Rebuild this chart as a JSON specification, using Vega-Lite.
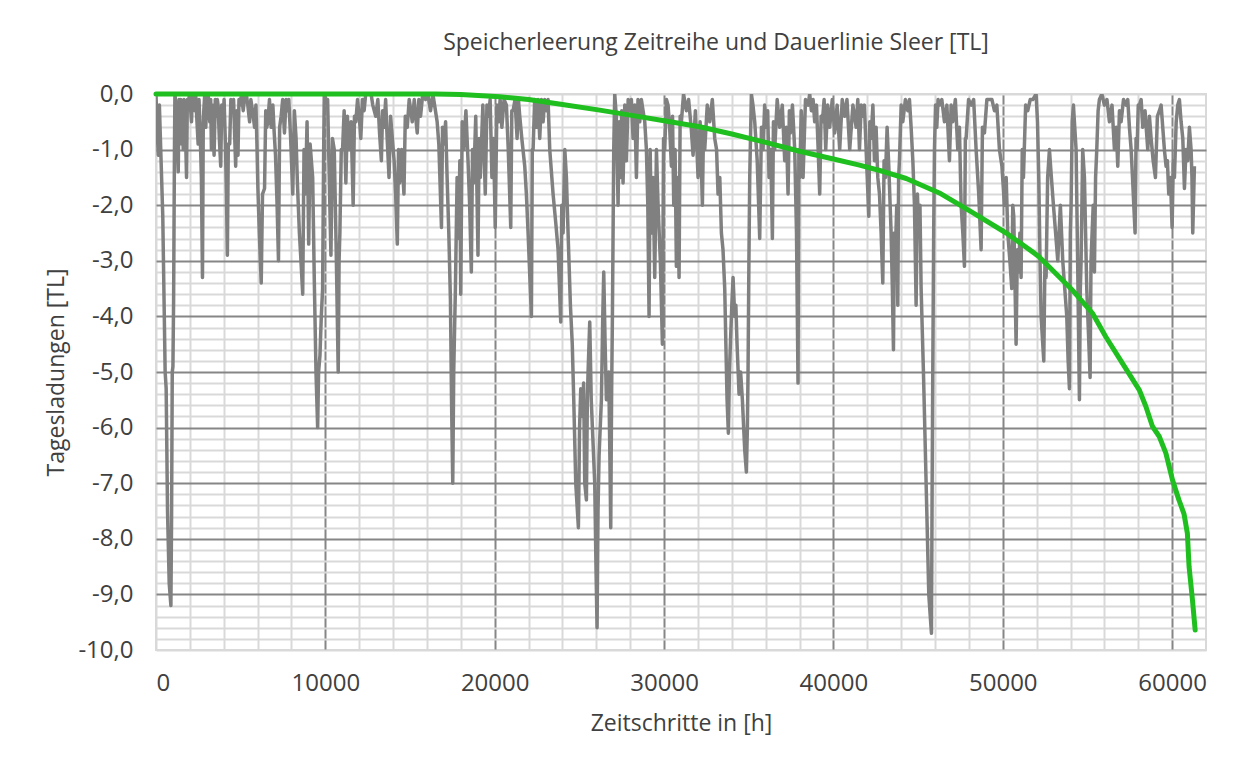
{
  "$schema": "https://vega.github.io/schema/vega-lite/v6.json",
  "width": 1050,
  "height": 556,
  "autosize": {"type": "none"},
  "padding": {"left": 156, "top": 94, "right": 52, "bottom": 111},
  "background": "white",
  "config": {
    "locale": {"number": {"decimal": ",", "thousands": ".", "grouping": [3], "currency": ["", " €"], "minus": "-"}},
    "view": {"stroke": "#d9d9d9", "strokeWidth": 2},
    "font": "Open Sans"
  },
  "title": {"text": "Speicherleerung Zeitreihe und Dauerlinie Sleer [TL]", "fontSize": 23, "fontWeight": "normal", "color": "#404040", "anchor": "middle", "dx": 35, "offset": 27, "font": "Open Sans"},
  "datasets": {
    "gray": [
      {"x":0,"y":0},{"x":60,"y":-0.6},{"x":137,"y":-1.1},{"x":200,"y":-0.2},{"x":300,"y":-1.2},{"x":400,"y":-2.2},{"x":480,"y":-3.8},{"x":540,"y":-5.0},{"x":600,"y":-5.3},{"x":680,"y":-7.5},{"x":780,"y":-8.8},{"x":880,"y":-9.2},{"x":920,"y":-7.6},{"x":960,"y":-5.0},{"x":1000,"y":-4.9},{"x":1040,"y":-3.7},{"x":1090,"y":-1.0},{"x":1117,"y":0},
      {"x":1200,"y":-0.3},{"x":1313,"y":-1.4},{"x":1360,"y":-0.1},{"x":1411,"y":-0.6},{"x":1460,"y":-0.1},{"x":1509,"y":-0.9},{"x":1560,"y":-0.2},{"x":1607,"y":-1.0},{"x":1650,"y":-0.1},{"x":1720,"y":-0.4},{"x":1803,"y":-1.5},{"x":1850,"y":-0.1},{"x":1901,"y":-0.2},{"x":1980,"y":0},{"x":2050,"y":-0.3},{"x":2097,"y":-0.5},{"x":2150,"y":0},{"x":2230,"y":-0.2},{"x":2293,"y":-0.3},{"x":2340,"y":0},{"x":2420,"y":-0.5},{"x":2489,"y":-0.9},{"x":2540,"y":-0.1},{"x":2600,"y":-0.6},{"x":2680,"y":-1.5},{"x":2744,"y":-3.3},{"x":2790,"y":-0.6},{"x":2822,"y":-0.3},
      {"x":2880,"y":0},{"x":2940,"y":-0.6},{"x":3000,"y":-0.1},{"x":3077,"y":0},{"x":3130,"y":-0.3},{"x":3175,"y":-0.5},{"x":3230,"y":-0.1},{"x":3273,"y":-1.0},{"x":3330,"y":-0.2},{"x":3380,"y":-0.6},{"x":3430,"y":-1.1},{"x":3500,"y":-0.1},{"x":3560,"y":-0.4},{"x":3620,"y":-0.1},{"x":3665,"y":-0.2},{"x":3740,"y":-0.8},{"x":3822,"y":-1.3},{"x":3880,"y":-0.2},{"x":3959,"y":-0.5},{"x":4020,"y":-0.1},{"x":4100,"y":-0.9},{"x":4160,"y":-1.8},{"x":4214,"y":-2.9},{"x":4270,"y":-0.9},{"x":4351,"y":-0.9},{"x":4420,"y":-0.1},{"x":4508,"y":-0.3},{"x":4580,"y":-0.1},{"x":4640,"y":-0.7},{"x":4704,"y":-1.3},{"x":4770,"y":-0.3},{"x":4841,"y":-1.1},{"x":4900,"y":-0.1},{"x":4978,"y":-0.2},{"x":5050,"y":0},{"x":5150,"y":-0.3},{"x":5250,"y":0},{"x":5331,"y":0},{"x":5420,"y":-0.2},{"x":5527,"y":-0.5},{"x":5600,"y":-0.1},{"x":5700,"y":-0.3},{"x":5821,"y":-0.6},{"x":5900,"y":-0.2},{"x":5960,"y":-0.9},{"x":6017,"y":-1.7},{"x":6100,"y":-2.5},{"x":6213,"y":-3.4},{"x":6290,"y":-1.8},{"x":6409,"y":-1.7},{"x":6480,"y":-0.3},{"x":6540,"y":-0.6},{"x":6605,"y":-0.5},{"x":6700,"y":-0.1},{"x":6801,"y":-0.6},{"x":6900,"y":-0.2},{"x":6980,"y":-0.7},{"x":7056,"y":-1.1},{"x":7150,"y":-2.0},{"x":7232,"y":-3.0},{"x":7300,"y":-0.6},{"x":7389,"y":-0.4},{"x":7480,"y":-0.1},{"x":7585,"y":-0.7},{"x":7680,"y":-0.1},{"x":7760,"y":-0.3},{"x":7840,"y":-0.1},
      {"x":7950,"y":-0.8},{"x":8075,"y":-1.8},{"x":8170,"y":-0.3},{"x":8271,"y":-0.8},{"x":8350,"y":-1.6},{"x":8467,"y":-2.5},{"x":8560,"y":-3.0},{"x":8663,"y":-3.6},{"x":8740,"y":-1.0},{"x":8820,"y":-1.8},{"x":8920,"y":-0.5},{"x":9016,"y":-2.7},{"x":9100,"y":-0.9},{"x":9251,"y":-1.5},{"x":9350,"y":-3.4},{"x":9447,"y":-5.0},{"x":9545,"y":-6.0},{"x":9600,"y":-5.0},{"x":9682,"y":-4.7},{"x":9760,"y":-4.0},{"x":9839,"y":-3.5},{"x":9900,"y":-1.0},{"x":9937,"y":0},
      {"x":10030,"y":-0.1},{"x":10133,"y":-0.1},{"x":10230,"y":-1.5},{"x":10329,"y":-2.9},{"x":10420,"y":-0.8},{"x":10525,"y":-1.0},{"x":10640,"y":-2.8},{"x":10760,"y":-5.0},{"x":10810,"y":-3.0},{"x":10858,"y":-2.5},{"x":10940,"y":-1.0},{"x":11015,"y":-1.0},{"x":11110,"y":-0.3},{"x":11211,"y":-1.6},{"x":11300,"y":-0.4},{"x":11407,"y":-1.0},{"x":11520,"y":-0.5},{"x":11642,"y":-2.0},{"x":11720,"y":-0.4},{"x":11799,"y":-0.5},{"x":11900,"y":-0.1},{"x":12000,"y":-0.4},{"x":12093,"y":-0.8},{"x":12190,"y":-0.1},{"x":12289,"y":-0.3},{"x":12380,"y":0},{"x":12485,"y":0},{"x":12700,"y":0},
      {"x":12800,"y":-0.2},{"x":12975,"y":-0.4},{"x":13100,"y":-0.1},{"x":13200,"y":-0.7},{"x":13308,"y":-1.2},{"x":13380,"y":-0.3},{"x":13465,"y":-0.6},{"x":13560,"y":-0.1},{"x":13650,"y":-0.8},{"x":13759,"y":-1.5},{"x":13850,"y":-0.4},{"x":13955,"y":-0.8},{"x":14060,"y":-1.2},{"x":14150,"y":-1.8},{"x":14249,"y":-2.7},{"x":14320,"y":-1.0},{"x":14386,"y":-1.6},{"x":14500,"y":-1.0},{"x":14641,"y":-1.8},{"x":14720,"y":-0.4},{"x":14837,"y":-0.6},{"x":14950,"y":-0.1},{"x":15050,"y":-0.3},{"x":15131,"y":-0.5},{"x":15250,"y":-0.1},{"x":15330,"y":-0.4},{"x":15425,"y":-0.7},{"x":15520,"y":-0.1},{"x":15621,"y":-0.4},{"x":15750,"y":0},{"x":15915,"y":-0.1},{"x":16050,"y":0},{"x":16209,"y":-0.3},{"x":16350,"y":0},{"x":16450,"y":-0.2},{"x":16601,"y":-0.5},{"x":16700,"y":-0.9},{"x":16856,"y":-2.4},{"x":16920,"y":-0.6},{"x":16993,"y":-0.9},{"x":17100,"y":-0.5},{"x":17189,"y":-1.5},{"x":17290,"y":-2.5},{"x":17385,"y":-3.7},{"x":17450,"y":-5.5},{"x":17522,"y":-7.0},{"x":17580,"y":-5.0},{"x":17679,"y":-3.5},{"x":17780,"y":-1.5},{"x":17875,"y":-2.6},{"x":17940,"y":-1.2},{"x":17993,"y":-3.6},{"x":18080,"y":-0.5},{"x":18169,"y":-1.0},{"x":18300,"y":-0.3},{"x":18424,"y":-1.2},{"x":18520,"y":-2.0},{"x":18620,"y":-3.2},{"x":18690,"y":-1.0},{"x":18757,"y":-1.6},{"x":18880,"y":-0.4},{"x":19012,"y":-2.9},{"x":19080,"y":-0.8},{"x":19149,"y":-1.5},{"x":19300,"y":-0.2},{"x":19443,"y":-1.8},{"x":19540,"y":-0.2},{"x":19639,"y":-0.4},{"x":19730,"y":-0.1},{"x":19835,"y":-1.5},{"x":19930,"y":-0.8},{"x":20031,"y":-2.4},{"x":20130,"y":-0.2},{"x":20227,"y":-0.5},{"x":20320,"y":-0.1},{"x":20423,"y":-0.6},{"x":20550,"y":-0.1},
      {"x":20691,"y":-0.2},{"x":20800,"y":-1.0},{"x":20947,"y":-2.4},{"x":21010,"y":-0.3},{"x":21085,"y":-0.3},{"x":21200,"y":-0.1},{"x":21321,"y":-0.8},{"x":21400,"y":-0.1},{"x":21479,"y":-0.4},{"x":21600,"y":-0.8},{"x":21774,"y":-1.3},{"x":21870,"y":-1.8},{"x":21971,"y":-2.5},{"x":22167,"y":-4.0},{"x":22220,"y":-1.0},{"x":22266,"y":-1.0},{"x":22360,"y":-0.1},{"x":22463,"y":-0.6},{"x":22560,"y":-0.1},{"x":22659,"y":-0.8},{"x":22760,"y":-0.1},{"x":22856,"y":-0.5},{"x":22950,"y":-0.1},{"x":23053,"y":-0.3},{"x":23150,"y":-0.1},{"x":23250,"y":-1.0},{"x":23447,"y":-1.8},{"x":23600,"y":-2.3},{"x":23742,"y":-2.8},{"x":23899,"y":-4.1},{"x":23960,"y":-2.0},{"x":24037,"y":-2.5},{"x":24140,"y":-1.0},{"x":24234,"y":-1.5},{"x":24332,"y":-2.5},{"x":24470,"y":-3.8},{"x":24580,"y":-4.5},{"x":24667,"y":-5.5},{"x":24785,"y":-7.0},{"x":24942,"y":-7.8},{"x":25010,"y":-6.0},{"x":25080,"y":-5.3},{"x":25178,"y":-5.8},{"x":25250,"y":-5.2},{"x":25316,"y":-7.0},{"x":25414,"y":-7.3},{"x":25470,"y":-5.5},{"x":25513,"y":-5.0},{"x":25611,"y":-4.1},{"x":25700,"y":-5.5},{"x":25769,"y":-6.0},{"x":25906,"y":-7.0},{"x":25980,"y":-8.5},{"x":26044,"y":-9.6},{"x":26100,"y":-7.5},{"x":26162,"y":-6.5},{"x":26230,"y":-6.0},{"x":26300,"y":-5.5},{"x":26380,"y":-4.0},{"x":26438,"y":-3.2},{"x":26520,"y":-4.5},{"x":26595,"y":-5.5},{"x":26733,"y":-5.0},{"x":26800,"y":-6.5},{"x":26851,"y":-7.8},{"x":26900,"y":-5.5},{"x":26950,"y":-4.0},{"x":27028,"y":-1.0},{"x":27087,"y":0},
      {"x":27180,"y":-0.4},{"x":27284,"y":-2.0},{"x":27350,"y":-0.5},{"x":27422,"y":-1.5},{"x":27500,"y":-0.3},{"x":27579,"y":-1.6},{"x":27680,"y":-0.2},{"x":27776,"y":-1.2},{"x":27880,"y":-0.1},{"x":27973,"y":-0.3},{"x":28070,"y":-0.1},{"x":28170,"y":-0.8},{"x":28270,"y":-0.2},{"x":28367,"y":-1.5},{"x":28460,"y":-0.1},{"x":28563,"y":-0.5},{"x":28660,"y":-0.1},{"x":28760,"y":-0.3},{"x":28860,"y":-0.5},{"x":28957,"y":-1.0},{"x":29040,"y":-2.0},{"x":29114,"y":-4.0},{"x":29180,"y":-1.0},{"x":29252,"y":-2.5},{"x":29350,"y":-1.5},{"x":29449,"y":-3.3},{"x":29550,"y":-1.0},{"x":29646,"y":-2.0},{"x":29780,"y":-3.0},{"x":29902,"y":-4.5},{"x":29970,"y":-0.8},{"x":30039,"y":-1.0},{"x":30140,"y":-0.1},{"x":30236,"y":-0.2},{"x":30330,"y":-0.6},{"x":30433,"y":-1.3},{"x":30500,"y":-0.4},{"x":30571,"y":-2.0},{"x":30650,"y":-1.0},{"x":30728,"y":-3.1},{"x":30800,"y":-1.5},{"x":30886,"y":-3.3},{"x":30950,"y":-0.4},{"x":31023,"y":-0.5},{"x":31150,"y":0},{"x":31319,"y":-0.3},
      {"x":31450,"y":-0.1},{"x":31600,"y":-0.6},{"x":31712,"y":-1.1},{"x":31850,"y":-0.3},{"x":32007,"y":-1.5},{"x":32130,"y":-0.5},{"x":32263,"y":-2.0},{"x":32330,"y":-0.6},{"x":32401,"y":-1.0},{"x":32550,"y":-0.2},{"x":32696,"y":-0.5},{"x":32850,"y":-0.1},{"x":32991,"y":-0.8},{"x":33100,"y":-1.0},{"x":33188,"y":-1.8},{"x":33290,"y":-1.5},{"x":33385,"y":-2.5},{"x":33480,"y":-2.8},{"x":33582,"y":-3.5},{"x":33650,"y":-4.5},{"x":33720,"y":-5.5},{"x":33798,"y":-6.1},{"x":33860,"y":-5.0},{"x":33916,"y":-4.5},{"x":34000,"y":-3.8},{"x":34074,"y":-3.3},{"x":34172,"y":-4.0},{"x":34240,"y":-3.8},{"x":34310,"y":-4.5},{"x":34428,"y":-5.4},{"x":34520,"y":-5.0},{"x":34625,"y":-5.5},{"x":34700,"y":-6.0},{"x":34763,"y":-6.4},{"x":34861,"y":-6.8},{"x":34920,"y":-6.0},{"x":34959,"y":-5.0},{"x":35010,"y":-3.0},{"x":35058,"y":-1.5},{"x":35156,"y":0},
      {"x":35250,"y":-0.2},{"x":35353,"y":-0.5},{"x":35500,"y":-1.2},{"x":35648,"y":-2.6},{"x":35750,"y":-0.6},{"x":35845,"y":-1.0},{"x":35940,"y":-0.2},{"x":36042,"y":-0.6},{"x":36120,"y":-0.3},{"x":36199,"y":-1.5},{"x":36300,"y":-1.0},{"x":36396,"y":-2.6},{"x":36460,"y":-0.5},{"x":36534,"y":-1.0},{"x":36680,"y":-0.1},{"x":36829,"y":-0.6},{"x":36980,"y":-0.2},{"x":37124,"y":-1.2},{"x":37220,"y":-0.6},{"x":37321,"y":-1.8},{"x":37400,"y":-0.3},{"x":37459,"y":-0.7},{"x":37580,"y":-0.2},{"x":37715,"y":-1.0},{"x":37820,"y":-2.5},{"x":37911,"y":-5.2},{"x":37960,"y":-1.0},{"x":38010,"y":-1.5},{"x":38100,"y":-0.3},{"x":38207,"y":-1.5},{"x":38350,"y":-0.1},{"x":38502,"y":-0.2},{"x":38600,"y":0},{"x":38699,"y":-0.3},{"x":38800,"y":-0.1},{"x":38895,"y":-0.5},{"x":39000,"y":-0.2},{"x":39100,"y":-1.0},{"x":39191,"y":-1.8},{"x":39270,"y":-0.4},{"x":39348,"y":-0.5},{"x":39450,"y":-0.1},{"x":39545,"y":-1.0},{"x":39660,"y":-0.2},{"x":39781,"y":-0.6},{"x":39930,"y":-0.1},{"x":40076,"y":-0.7},{"x":40220,"y":-0.2},{"x":40371,"y":-1.0},{"x":40520,"y":-0.1},{"x":40667,"y":-0.4},{"x":40800,"y":-0.1},{"x":40962,"y":-1.0},{"x":41150,"y":-0.2},
      {"x":41341,"y":-0.6},{"x":41440,"y":-0.1},{"x":41538,"y":-1.0},{"x":41640,"y":-0.2},{"x":41734,"y":-0.4},{"x":41830,"y":-0.2},{"x":41931,"y":-1.0},{"x":42089,"y":-2.2},{"x":42150,"y":-0.5},{"x":42226,"y":-0.8},{"x":42330,"y":-0.2},{"x":42423,"y":-1.2},{"x":42520,"y":-0.6},{"x":42620,"y":-1.5},{"x":42720,"y":-1.8},{"x":42817,"y":-2.5},{"x":42915,"y":-3.4},{"x":42990,"y":-1.2},{"x":43073,"y":-1.5},{"x":43170,"y":-0.6},{"x":43269,"y":-1.3},{"x":43407,"y":-2.5},{"x":43480,"y":-3.5},{"x":43545,"y":-4.6},{"x":43600,"y":-2.5},{"x":43663,"y":-2.8},{"x":43740,"y":-2.0},{"x":43801,"y":-3.8},{"x":43850,"y":-1.5},{"x":43899,"y":-1.2},{"x":44000,"y":-0.2},{"x":44096,"y":-0.5},{"x":44250,"y":-0.1},{"x":44391,"y":-0.3},{"x":44490,"y":-0.1},{"x":44588,"y":-0.6},{"x":44690,"y":-1.2},{"x":44785,"y":-2.0},{"x":44883,"y":-3.8},{"x":44960,"y":-1.8},{"x":45041,"y":-2.5},{"x":45110,"y":-2.0},{"x":45178,"y":-3.5},{"x":45316,"y":-5.0},{"x":45474,"y":-7.0},{"x":45631,"y":-9.0},{"x":45720,"y":-9.4},{"x":45789,"y":-9.7},{"x":45830,"y":-7.0},{"x":45867,"y":-5.0},{"x":45920,"y":-2.5},{"x":45966,"y":-1.0},{"x":46030,"y":-0.2},{"x":46103,"y":-0.6},{"x":46180,"y":-0.1},{"x":46261,"y":-0.2},{"x":46400,"y":-0.1},{"x":46556,"y":-0.5},{"x":46700,"y":-0.2},{"x":46851,"y":-1.2},{"x":46950,"y":-0.2},{"x":47048,"y":-0.5},{"x":47200,"y":-0.1},{"x":47343,"y":-1.0},{"x":47440,"y":-0.6},{"x":47540,"y":-2.0},{"x":47640,"y":-2.5},{"x":47737,"y":-3.1},{"x":47790,"y":-0.8},{"x":47835,"y":-0.8},{"x":47980,"y":-0.1},{"x":48130,"y":-0.2},{"x":48280,"y":-0.1},{"x":48426,"y":-1.0},{"x":48580,"y":-1.8},{"x":48721,"y":-2.8},{"x":48800,"y":-0.6},{"x":48918,"y":-0.7},{"x":49060,"y":-0.1},{"x":49213,"y":-0.1},{"x":49360,"y":-0.1},{"x":49508,"y":-0.3},{"x":49650,"y":-0.2},{"x":49803,"y":-1.0},{"x":49950,"y":-1.3},{"x":50098,"y":-2.0},{"x":50200,"y":-1.5},{"x":50295,"y":-2.5},{"x":50420,"y":-3.0},{"x":50531,"y":-3.5},{"x":50590,"y":-2.0},{"x":50649,"y":-2.2},{"x":50787,"y":-4.5},{"x":50860,"y":-2.8},{"x":50945,"y":-3.2},{"x":51010,"y":-2.5},{"x":51082,"y":-3.3},{"x":51150,"y":-1.0},{"x":51220,"y":-1.5},{"x":51350,"y":-0.2},{"x":51476,"y":-0.3},{"x":51620,"y":-0.1},{"x":51771,"y":-0.1},{"x":51968,"y":0},
      {"x":52050,"y":-0.5},{"x":52125,"y":-1.5},{"x":52200,"y":-3.0},{"x":52263,"y":-4.0},{"x":52421,"y":-4.8},{"x":52490,"y":-3.0},{"x":52558,"y":-3.3},{"x":52650,"y":-1.5},{"x":52755,"y":-1.0},{"x":52870,"y":-1.5},{"x":52991,"y":-2.0},{"x":53120,"y":-2.5},{"x":53247,"y":-3.0},{"x":53400,"y":-2.0},{"x":53542,"y":-3.0},{"x":53660,"y":-3.5},{"x":53779,"y":-4.0},{"x":53860,"y":-4.8},{"x":53936,"y":-5.3},{"x":53990,"y":-2.5},{"x":54034,"y":-2.0},{"x":54100,"y":-0.5},{"x":54172,"y":-0.2},{"x":54250,"y":-0.6},{"x":54330,"y":-1.0},{"x":54420,"y":-3.0},{"x":54526,"y":-5.5},{"x":54580,"y":-3.5},{"x":54625,"y":-3.0},{"x":54720,"y":-1.0},{"x":54822,"y":-1.5},{"x":54890,"y":-2.5},{"x":54959,"y":-3.5},{"x":55060,"y":-4.3},{"x":55156,"y":-5.1},{"x":55210,"y":-3.0},{"x":55274,"y":-2.5},{"x":55340,"y":-2.0},{"x":55412,"y":-3.2},{"x":55480,"y":-1.5},{"x":55550,"y":-1.0},{"x":55630,"y":-0.3},{"x":55707,"y":-0.1},{"x":55850,"y":0},{"x":56002,"y":-0.2},{"x":56150,"y":-0.1},{"x":56298,"y":-0.5},{"x":56450,"y":-0.2},{"x":56593,"y":-1.0},{"x":56700,"y":-0.6},{"x":56790,"y":-1.3},{"x":56890,"y":-0.3},{"x":56986,"y":-0.5},{"x":57130,"y":-0.1},{"x":57282,"y":-0.2},{"x":57380,"y":-0.1},{"x":57478,"y":-0.6},{"x":57580,"y":-1.0},{"x":57675,"y":-1.6},{"x":57813,"y":-2.5},{"x":57870,"y":-0.8},{"x":57931,"y":-1.0},{"x":58000,"y":-0.2},{"x":58069,"y":-0.2},{"x":58170,"y":-0.1},{"x":58266,"y":-0.6},{"x":58400,"y":-0.3},{"x":58561,"y":-1.0},{"x":58660,"y":-0.4},{"x":58758,"y":-0.8},{"x":58880,"y":-1.2},{"x":59014,"y":-1.5},{"x":59130,"y":-0.4},{"x":59250,"y":-0.3},{"x":59350,"y":-0.2},{"x":59446,"y":-0.6},{"x":59543,"y":-1.0},{"x":59643,"y":-1.3},{"x":59720,"y":-1.2},{"x":59801,"y":-1.8},{"x":59900,"y":-1.5},{"x":59998,"y":-2.4},{"x":60070,"y":-1.2},{"x":60135,"y":-1.5},{"x":60240,"y":-0.5},{"x":60332,"y":-0.2},{"x":60430,"y":-0.1},{"x":60529,"y":-0.5},{"x":60630,"y":-0.8},{"x":60726,"y":-1.7},{"x":60820,"y":-1.0},{"x":60923,"y":-1.2},{"x":61020,"y":-0.6},{"x":61120,"y":-1.0},{"x":61170,"y":-1.5},{"x":61218,"y":-2.5},{"x":61316,"y":-1.3}
    ],
    "green": [
      {"x":0,"y":0},{"x":16500,"y":0},{"x":18000,"y":-0.01},{"x":20300,"y":-0.05},{"x":22000,"y":-0.1},{"x":24000,"y":-0.19},{"x":26200,"y":-0.29},{"x":28000,"y":-0.38},{"x":30000,"y":-0.48},{"x":32100,"y":-0.59},{"x":34000,"y":-0.72},{"x":36000,"y":-0.87},{"x":38000,"y":-1.03},{"x":40000,"y":-1.17},{"x":41540,"y":-1.28},{"x":42900,"y":-1.39},{"x":44300,"y":-1.52},{"x":46256,"y":-1.78},{"x":48200,"y":-2.13},{"x":50200,"y":-2.5},{"x":51760,"y":-2.84},{"x":52156,"y":-2.93},{"x":54122,"y":-3.53},{"x":55290,"y":-3.94},{"x":56090,"y":-4.37},{"x":57080,"y":-4.85},{"x":58056,"y":-5.32},{"x":58450,"y":-5.62},{"x":58840,"y":-5.98},{"x":59240,"y":-6.16},{"x":59630,"y":-6.46},{"x":60020,"y":-6.94},{"x":60400,"y":-7.3},{"x":60700,"y":-7.55},{"x":60900,"y":-7.9},{"x":61000,"y":-8.5},{"x":61200,"y":-9.1},{"x":61360,"y":-9.64}
    ]
  },
  "layer": [
    {
      "data": {"name": "gray"},
      "mark": {"type": "line", "color": "#808080", "strokeWidth": 3.5, "strokeJoin": "round", "clip": true},
      "encoding": {
        "x": {"field": "x", "type": "quantitative", "scale": {"domain": [0, 62000], "nice": false, "zero": false},
          "axis": {"orient": "top", "values": [2000,4000,6000,8000,12000,14000,16000,18000,22000,24000,26000,28000,32000,34000,36000,38000,42000,44000,46000,48000,52000,54000,56000,58000], "grid": true, "gridColor": "#d9d9d9", "gridWidth": 2, "labels": false, "ticks": false, "domain": false, "title": null}},
        "y": {"field": "y", "type": "quantitative", "scale": {"domain": [-10, 0], "nice": false, "zero": false},
          "axis": {"orient": "right", "values": [-0.2,-0.4,-0.6,-0.8,-1.2,-1.4,-1.6,-1.8,-2.2,-2.4,-2.6,-2.8,-3.2,-3.4,-3.6,-3.8,-4.2,-4.4,-4.6,-4.8,-5.2,-5.4,-5.6,-5.8,-6.2,-6.4,-6.6,-6.8,-7.2,-7.4,-7.6,-7.8,-8.2,-8.4,-8.6,-8.8,-9.2,-9.4,-9.6,-9.8], "grid": true, "gridColor": "#d9d9d9", "gridWidth": 2, "labels": false, "ticks": false, "domain": false, "title": null}}
      }
    },
    {
      "data": {"name": "green"},
      "mark": {"type": "line", "color": "#1fbf1f", "strokeWidth": 5, "strokeCap": "round", "strokeJoin": "round"},
      "encoding": {
        "x": {"field": "x", "type": "quantitative",
          "axis": {"orient": "bottom", "values": [0,10000,20000,30000,40000,50000,60000], "format": "d", "grid": true, "gridColor": {"condition": {"test": "datum.value == 0", "value": "#d9d9d9"}, "value": "#868686"}, "gridWidth": 2, "domain": false, "ticks": false, "labelFontSize": 24, "labelColor": "#404040", "labelPadding": 21, "labelFont": "Open Sans", "title": "Zeitschritte in [h]", "titleFont": "Open Sans", "titleFontSize": 23, "titleFontWeight": "normal", "titleColor": "#404040", "titleX": 525, "titleY": 73, "titleBaseline": "middle", "titleAlign": "center"}},
        "y": {"field": "y", "type": "quantitative",
          "axis": {"orient": "left", "values": [0,-1,-2,-3,-4,-5,-6,-7,-8,-9,-10], "format": ".1f", "grid": true, "gridColor": {"condition": {"test": "datum.value == 0 || datum.value == -10", "value": "#d9d9d9"}, "value": "#868686"}, "gridWidth": 2, "domain": false, "ticks": false, "labelFontSize": 24, "labelColor": "#404040", "labelPadding": 23, "labelFont": "Open Sans", "title": "Tagesladungen [TL]", "titleFont": "Open Sans", "titleFontSize": 23, "titleFontWeight": "normal", "titleColor": "#404040", "titleX": -100, "titleY": 278, "titleAngle": -90, "titleBaseline": "middle", "titleAlign": "center"}}
      }
    }
  ],
  "resolve": {"axis": {"x": "independent", "y": "independent"}}
}
